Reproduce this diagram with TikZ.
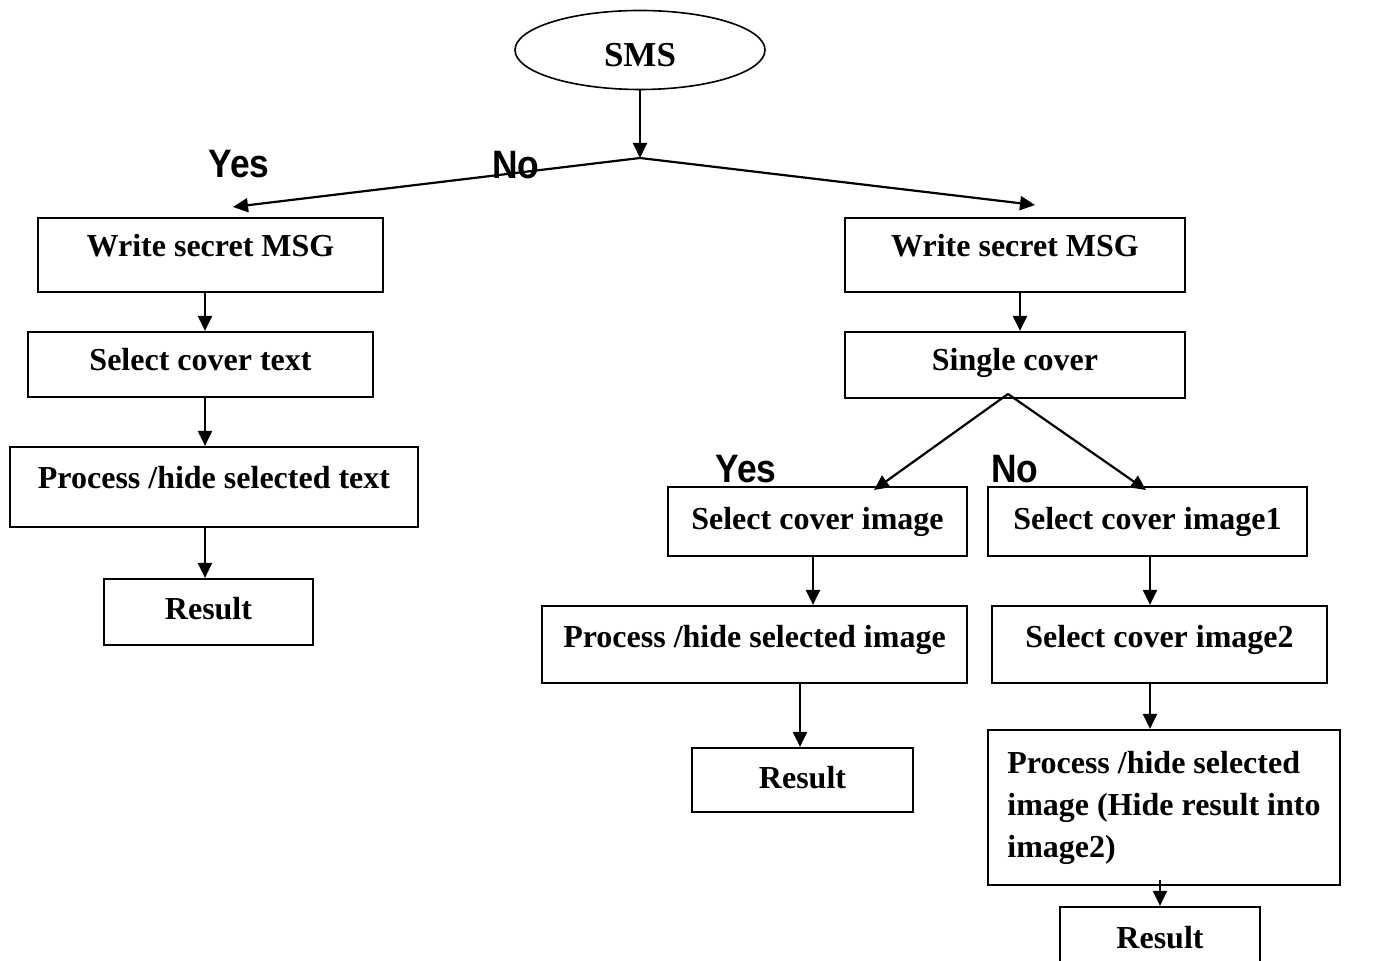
\documentclass[tikz,border=0pt]{standalone}
\usepackage{fontspec}
\setmainfont{Liberation Serif}
\newfontfamily\lsans{Liberation Sans}
\usetikzlibrary{arrows.meta,shapes.geometric,calc}
\newcommand{\tallword}[1]{\scalebox{1}[1.12]{#1}}
\begin{document}
\begin{tikzpicture}[x=0.5pt,y=-0.5pt,
  frame/.style={draw,line width=1.1pt,rectangle,inner sep=0pt,
    font=\fontsize{16}{19}\selectfont\bfseries},
  box/.style={frame,text height=12pt,text depth=#1},
  box/.default=3.5pt,
  arr/.style={draw,line width=1.1pt,-{Triangle[length=7.5pt,width=7pt]}},
  choice/.style={font=\lsans\fontsize{17.7}{20}\selectfont\bfseries}]
\useasboundingbox (0,0) rectangle (1382,961);
\clip (0,0) rectangle (1382,961);

% start
\node[draw,ellipse,line width=0.8pt,minimum width=125pt,minimum height=39.5pt,
  inner sep=0pt,text height=16.6pt,text depth=0pt,
  font=\fontsize{17.5}{20}\selectfont\bfseries] (sms) at (640,50) {SMS};
\coordinate (fork) at (640,158);
\coordinate (tipL) at (233,207);
\coordinate (tipR) at (1035,205);

% text branch
\node[box=10.4pt,minimum width=172.5pt,minimum height=37pt] (l1) at (210.5,255) {Write secret MSG};
\node[box=5.9pt,minimum width=172.5pt,minimum height=32.5pt] (l2) at (200.5,364.5) {Select cover text};
\node[box=10.4pt,minimum width=204pt,minimum height=40pt] (l3) at (214,487) {Process /hide selected text\hspace{7pt}};
\node[box=4.4pt,minimum width=104.5pt,minimum height=33pt] (l4) at (208.5,612) {Result};

% image branch
\node[box=10.4pt,minimum width=170pt,minimum height=37pt] (r1) at (1015,255) {Write secret MSG};
\node[box=6.4pt,minimum width=170pt,minimum height=33pt] (r2) at (1015,365) {Single cover};
\coordinate (fork2) at (1008,394);
\coordinate (tipA) at (874,490);
\coordinate (tipB) at (1146,490);

\node[box=3.9pt,minimum width=149.5pt,minimum height=34.5pt] (a1) at (817.5,521.5) {Select cover image};
\node[box=8.9pt,minimum width=212.5pt,minimum height=38.5pt] (a2) at (754.5,644.5) {Process /hide selected image};
\node[box=3.4pt,minimum width=110.5pt,minimum height=32pt] (a3) at (802.5,780) {Result};

\node[box=3.9pt,minimum width=159.5pt,minimum height=34.5pt] (b1) at (1147.5,521.5) {Select cover image1};
\node[box=8.9pt,minimum width=167.5pt,minimum height=38.5pt] (b2) at (1159.5,644.5) {Select cover image2};
\node[frame,align=left,minimum width=176pt,minimum height=77.5pt,
  font=\fontsize{16}{21}\selectfont\bfseries] (b3) at (1164,807.5)
  {Process /hide selected\\image (Hide result into\\image2)};
\node[box=2.4pt,minimum width=100pt,minimum height=32pt] (b4) at (1160,939) {Result};

% arrow columns
\coordinate (cL) at (205,0);
\coordinate (cR) at (1020,0);
\coordinate (cA) at (813,0);
\coordinate (cA2) at (800,0);
\coordinate (cB) at (1150,0);
\coordinate (cB2) at (1160,0);

% connectors
\draw[arr] (sms.south) -- (fork);
\draw[arr] (fork) -- (tipL);
\draw[arr] (fork) -- (tipR);
\draw[arr] (l1.south -| cL) -- (l2.north -| cL);
\draw[arr] (l2.south -| cL) -- (l3.north -| cL);
\draw[arr] (l3.south -| cL) -- (l4.north -| cL);
\draw[arr] (r1.south -| cR) -- (r2.north -| cR);
\draw[arr] (fork2) -- (tipA);
\draw[arr] (fork2) -- (tipB);
\draw[arr] (a1.south -| cA) -- (a2.north -| cA);
\draw[arr] (a2.south -| cA2) -- (a3.north -| cA2);
\draw[arr] (b1.south -| cB) -- (b2.north -| cB);
\draw[arr] (b2.south -| cB) -- (b3.north -| cB);
\draw[arr] ([yshift=3pt]b3.south -| cB2) -- (b4.north -| cB2);

% branch labels
\node[choice] (yes1) at (239,164) {\tallword{Yes}};
\node[choice] (no1) at (516,165) {\tallword{No}};
\node[choice] (yes2) at (746,469) {\tallword{Yes}};
\node[choice] (no2) at (1015,469) {\tallword{No}};
\end{tikzpicture}
\end{document}
